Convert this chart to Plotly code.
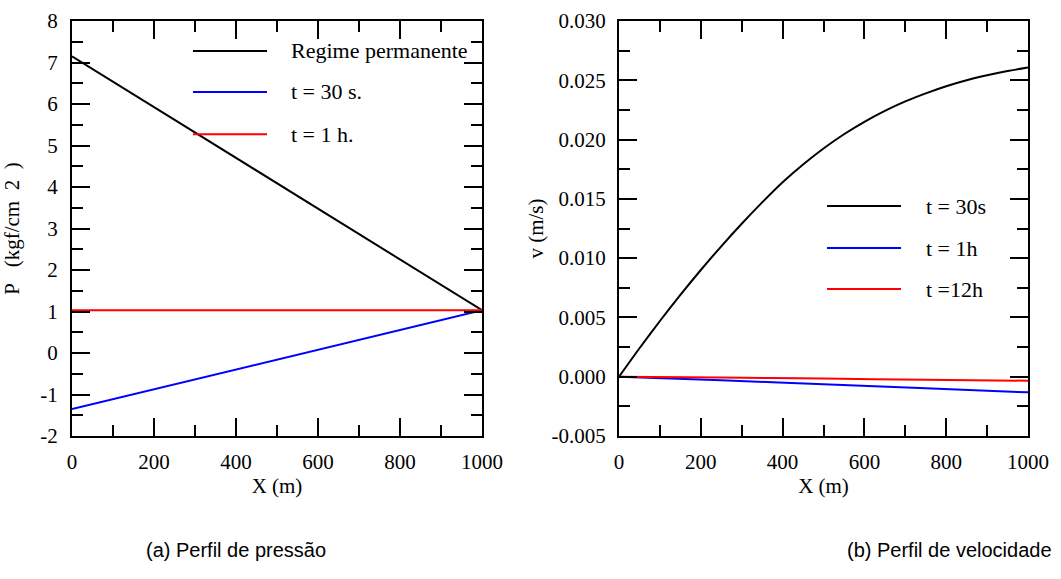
import plotly.graph_objects as go

# ---------------- data ----------------
# (a) pressure profile
x_p = [0, 1000]
p_regime = [7.15, 1.03]
p_30s = [-1.35, 1.03]
p_1h = [1.03, 1.03]

# (b) velocity profile
x_v = [0, 50, 100, 150, 200, 250, 300, 350, 400, 450, 500,
       550, 600, 650, 700, 750, 800, 850, 900, 950, 1000]
v_30s = [0.0, 0.0024, 0.0047, 0.0069, 0.0090, 0.0110, 0.0129, 0.0147, 0.0164, 0.0179, 0.01925,
         0.02045, 0.0215, 0.02242, 0.02322, 0.0239, 0.0245, 0.0250, 0.02542, 0.02578, 0.02608]
x_v2 = [0, 250, 500, 750, 1000]
v_1h = [0.0, -0.00030, -0.00064, -0.00098, -0.00132]
v_12h = [0.0, -0.00007, -0.00016, -0.00025, -0.00034]

# tick labels (hyphen minus as in the reference)
x_ticks = [0, 200, 400, 600, 800, 1000]
x_ticklabels = ["0", "200", "400", "600", "800", "1000"]
p_ticks = [-2, -1, 0, 1, 2, 3, 4, 5, 6, 7, 8]
p_ticklabels = ["-2", "-1", "0", "1", "2", "3", "4", "5", "6", "7", "8"]
v_ticks = [-0.005, 0.0, 0.005, 0.010, 0.015, 0.020, 0.025, 0.030]
v_ticklabels = ["-0.005", "0.000", "0.005", "0.010", "0.015", "0.020", "0.025", "0.030"]

legend_a = ["Regime permanente", "t = 30 s.", "t = 1 h."]
legend_b = ["t = 30s", "t = 1h", "t =12h"]
colors = ["#000000", "#0000ff", "#ff0000"]

captions = ["(a) Perfil de pressão", "(b) Perfil de velocidade"]

SERIF = "Liberation Serif, Times New Roman, serif"
SANS = "Liberation Sans, Arial, sans-serif"
FS = 21
NB = "\u00a0"

fig = go.Figure()

for ys, c, name in zip([p_regime, p_30s, p_1h], colors, legend_a):
    fig.add_trace(go.Scatter(x=x_p, y=ys, mode="lines", name=name,
                             line=dict(color=c, width=2), xaxis="x", yaxis="y",
                             showlegend=False))

for xs, ys, c, name in zip([x_v, x_v2, x_v2], [v_30s, v_1h, v_12h], colors, legend_b):
    fig.add_trace(go.Scatter(x=xs, y=ys, mode="lines", name=name,
                             line=dict(color=c, width=2, shape="spline", smoothing=0.6),
                             xaxis="x2", yaxis="y2", showlegend=False))

axis_common = dict(
    showgrid=False, zeroline=False, showline=True, linecolor="black", linewidth=2,
    mirror="ticks", ticks="inside", ticklen=18, tickwidth=2, tickcolor="black",
    automargin=False,
    tickfont=dict(family=SERIF, size=FS, color="black"),
    title_font=dict(family=SERIF, size=FS, color="black"),
)
minor_common = dict(ticks="inside", ticklen=11, tickwidth=2, tickcolor="black")

p_title = "P" + NB * 3 + "(kgf/cm" + NB * 2 + "2" + NB * 2 + ")"

fig.update_layout(
    width=1061, height=579,
    margin=dict(l=72, r=33, t=21, b=143, autoexpand=False),
    paper_bgcolor="white", plot_bgcolor="white",
    xaxis=dict(domain=[0, 0.4289], range=[0, 1000],
               tickmode="array", tickvals=x_ticks, ticktext=x_ticklabels,
               minor=dict(dtick=100, tick0=0, **minor_common),
               title=dict(text="X (m)", standoff=0), ticklabelstandoff=6, anchor="y",
               **axis_common),
    yaxis=dict(domain=[0, 1], range=[-2, 8],
               tickmode="array", tickvals=p_ticks, ticktext=p_ticklabels,
               minor=dict(dtick=0.5, tick0=0, **minor_common),
               title=dict(text=p_title, standoff=16), ticklabelstandoff=8,
               anchor="x", **axis_common),
    xaxis2=dict(domain=[0.5722, 1], range=[0, 1000],
                tickmode="array", tickvals=x_ticks, ticktext=x_ticklabels,
                minor=dict(dtick=100, tick0=0, **minor_common),
                title=dict(text="X (m)", standoff=0), ticklabelstandoff=6, anchor="y2",
                **axis_common),
    yaxis2=dict(domain=[0, 1], range=[-0.005, 0.030],
                tickmode="array", tickvals=v_ticks, ticktext=v_ticklabels,
                minor=dict(dtick=0.0025, tick0=0, **minor_common),
                title=dict(text="v (m/s)", standoff=2), ticklabelstandoff=7,
                anchor="x2", **axis_common),
    showlegend=False,
)

# manual legends (long sample lines as in the reference)
leg_a_y = [0.928, 0.829, 0.727]
leg_b_y = [0.554, 0.453, 0.354]
for lab, c, yy in zip(legend_a, colors, leg_a_y):
    fig.add_shape(type="line", xref="x domain", yref="y domain",
                  x0=0.295, x1=0.4756, y0=yy, y1=yy, line=dict(color=c, width=2))
    fig.add_annotation(xref="x domain", yref="y domain", x=0.529, y=yy, text=lab,
                       showarrow=False, xanchor="left", yanchor="middle",
                       font=dict(family=SERIF, size=22, color="black"))
for lab, c, yy in zip(legend_b, colors, leg_b_y):
    fig.add_shape(type="line", xref="x2 domain", yref="y2 domain",
                  x0=0.5086, x1=0.6895, y0=yy, y1=yy, line=dict(color=c, width=2))
    fig.add_annotation(xref="x2 domain", yref="y2 domain", x=0.7457, y=yy, text=lab,
                       showarrow=False, xanchor="left", yanchor="middle",
                       font=dict(family=SERIF, size=22, color="black"))

# captions
fig.add_annotation(xref="paper", yref="paper", x=0.172, y=-0.275, text=captions[0],
                   showarrow=False, xanchor="center", yanchor="middle",
                   font=dict(family=SANS, size=20, color="black"))
fig.add_annotation(xref="paper", yref="paper", x=1.027, y=-0.275, text=captions[1],
                   showarrow=False, xanchor="right", yanchor="middle",
                   font=dict(family=SANS, size=20, color="black"))

fig.write_html("out.html")
